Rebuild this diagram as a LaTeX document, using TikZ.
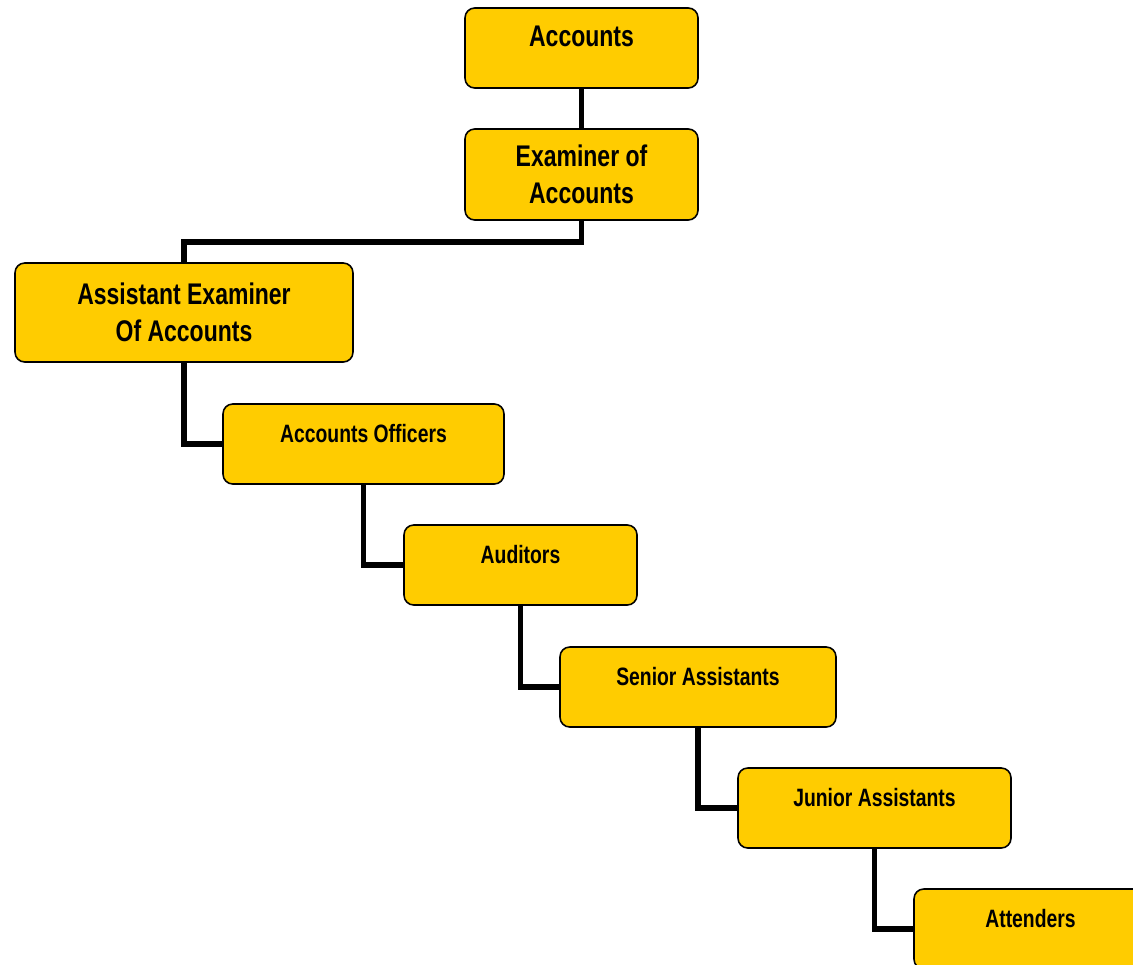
\documentclass[tikz,border=0pt]{standalone}
\usepackage{fontspec}
\setmainfont{Liberation Sans}[FakeStretch=0.77]
\definecolor{boxyellow}{HTML}{FFCC00}

\tikzset{
  post/.style={draw, rounded corners=5.5pt, fill=boxyellow, line width=0.9pt, align=center, inner sep=0pt},
  bigpost/.style={post, font=\bfseries\fontsize{17}{21}\selectfont},
  smallpost/.style={post, font=\bfseries\fontsize{14.3}{18}\selectfont},
  topline/.style={text height=0.76cm, text depth=0.84cm},
  link/.style={line width=3.1pt}
}

\begin{document}
\begin{tikzpicture}[x=0.02cm, y=-0.02cm]
        \clip (0,0) rectangle (1133,964);
        \node[bigpost, topline, minimum width=4.66cm] (acc) at (581.5,48) {Accounts};
        \node[bigpost, minimum width=4.66cm, minimum height=1.82cm] (exam) at (581.5,174.5) {Examiner of\\Accounts};
        \node[bigpost, minimum width=6.76cm, minimum height=1.98cm] (asst) at (184,312.5) {Assistant Examiner\\Of Accounts};
        \node[smallpost, topline, minimum width=5.62cm] (offi) at (363.5,444) {Accounts Officers};
        \node[smallpost, topline, minimum width=4.66cm] (aud) at (520.5,565) {Auditors};
        \node[smallpost, topline, minimum width=5.52cm] (sen) at (698,687) {Senior Assistants};
        \node[smallpost, topline, minimum width=5.46cm] (jun) at (874.5,808) {Junior Assistants};
        \node[smallpost, topline, minimum width=4.66cm] (att) at (1030.5,929) {Attenders};
        \draw[link] (acc) -- (exam);
        \draw[link] (exam.south) -- ++(0,21) -| (asst.north);
        \draw[link] (asst.south) |- (offi.west);
        \draw[link] (offi.south) |- (aud.west);
        \draw[link] (aud.south) |- (sen.west);
        \draw[link] (sen.south) |- (jun.west);
        \draw[link] (jun.south) |- (att.west);
    \end{tikzpicture}
\end{document}
